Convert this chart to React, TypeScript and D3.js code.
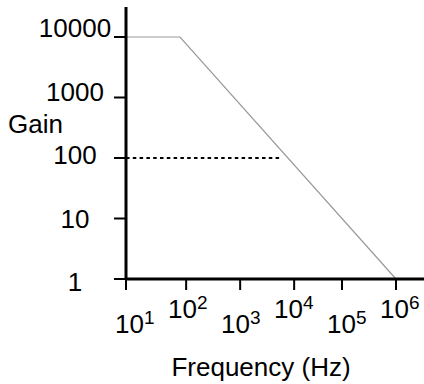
import * as d3 from 'd3'

// gain curve of the amplifier (frequency in Hz, gain)
const curveFreq = [10, 100, 1e6]
const curveGain = [10000, 10000, 1]

// dotted reference level
const refFreq = [10, 7000]
const refGain = [100, 100]

// axis ticks
const yTicks = [1, 10, 100, 1000, 10000]
const yTickLabels = ['1', '10', '100', '1000', '10000']
const xTickValues = [10, 130, 1300, 13000, 1e5, 1e6]
const xTickExps = ['1', '2', '3', '4', '5', '6']

const FONT = '"Liberation Sans", Arial, sans-serif'

export default function App() {
  const width = 424
  const height = 384

  const x = d3.scaleLog().domain([10, 1e6]).range([126, 396])
  const y = d3.scaleLog().domain([1, 10000]).range([279, 37])
  // label placement scales (labels sit a bit off the ticks in the original)
  const xLab = d3.scaleLog().domain([10, 1e6]).range([115, 380])
  const yLab = d3.scaleLog().domain([1, 10000]).range([291, 37])

  const line = d3.line<number>()
    .x((_, i) => x(curveFreq[i]))
    .y((g) => y(g))

  const refLine = d3.line<number>()
    .x((_, i) => x(refFreq[i]))
    .y((g) => y(g))

  const x0 = x(10)
  const y0 = y(1)

  return (
    <svg
      width={width}
      height={height}
      style={{ position: 'absolute', left: 0, top: 0, background: '#fff' }}
      fontFamily={FONT}
    >
      {/* curve */}
      <path d={line(curveGain) ?? ''} fill="none" stroke="#999" strokeWidth={1.2} />
      <path
        d={refLine(refGain) ?? ''}
        fill="none"
        stroke="#000"
        strokeWidth={2}
        strokeDasharray="3.5,3.3"
      />

      {/* y axis */}
      <line x1={x0} x2={x0} y1={7} y2={y0 + 1} stroke="#000" strokeWidth={3} />
      {yTicks.map((v, i) => (
        <g key={v}>
          <line x1={x0 - 12} x2={x0} y1={y(v)} y2={y(v)} stroke="#000" strokeWidth={2} />
          <text x={75} y={yLab(v)} textAnchor="middle" fontSize={26} fill="#000">
            {yTickLabels[i]}
          </text>
        </g>
      ))}
      <text x={8} y={133} fontSize={26} fill="#000">Gain</text>

      {/* x axis */}
      <line x1={x0 - 1} x2={424} y1={y0} y2={y0} stroke="#000" strokeWidth={3} />
      {xTickValues.map((v, i) => {
        const k = i + 1
        const low = k % 2 === 1
        return (
          <g key={v}>
            <line x1={x(v)} x2={x(v)} y1={y0} y2={y0 + 11} stroke="#000" strokeWidth={2} />
            <text
              x={xLab(Math.pow(10, k))}
              y={low ? 333 : 318}
              fontSize={26}
              fill="#000"
            >
              10
              <tspan dy={-9} fontSize={19}>{xTickExps[i]}</tspan>
            </text>
          </g>
        )
      })}
      <text x={261} y={376} textAnchor="middle" fontSize={26} fill="#000">
        Frequency (Hz)
      </text>
    </svg>
  )
}
